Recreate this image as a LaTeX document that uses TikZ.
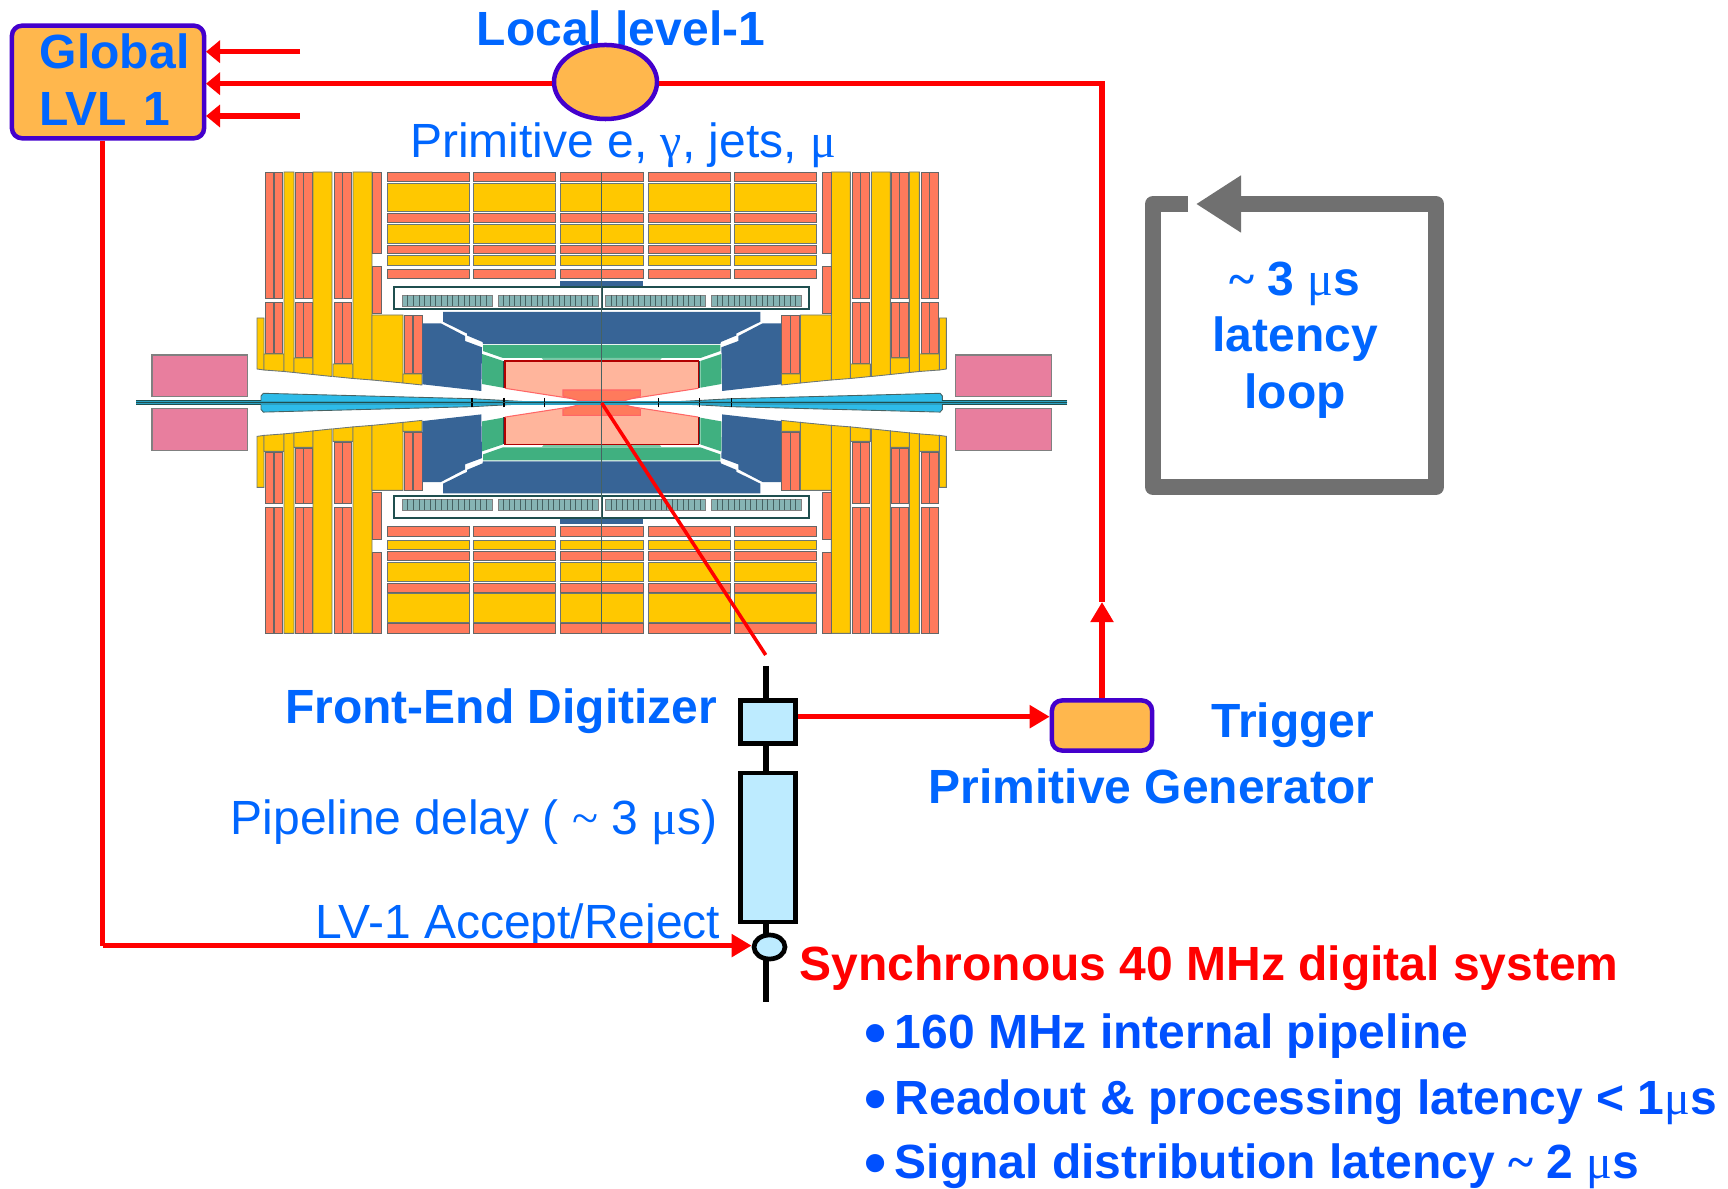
\documentclass[tikz,border=0pt]{standalone}
\usepackage{fontspec}
\setmainfont{Liberation Sans}
\newfontfamily\symbfont{Liberation Serif}
\usetikzlibrary{arrows.meta,shapes.geometric}

\definecolor{txtblue}{HTML}{0066FF}
\definecolor{bulletblue}{HTML}{0050FF}
\definecolor{boxorange}{HTML}{FFB74D}
\definecolor{boxpurple}{HTML}{4400CC}
\definecolor{cellblue}{HTML}{BDEBFF}
\definecolor{loopgray}{HTML}{707070}
\definecolor{detsalmon}{HTML}{FF7A5C}
\definecolor{detyellow}{HTML}{FFC800}
\definecolor{detblue}{HTML}{376496}
\definecolor{detgreen}{HTML}{40B080}
\definecolor{detpale}{HTML}{FFB59C}
\definecolor{detcone}{HTML}{2DBBE8}
\definecolor{detpink}{HTML}{E87E9E}
\definecolor{detmod}{HTML}{86B4B4}
\definecolor{detdark}{HTML}{1F4F4F}

\newcommand{\greek}[1]{{\symbfont\fontseries{m}\selectfont #1}}
\newcommand{\tildesym}{{\symbfont\textasciitilde}}
\newcommand{\bigbullet}{\raisebox{-.13em}{\fontsize{18}{18}\selectfont •}\hspace{.08cm}}

\tikzset{
  hcal/.style={fill=detsalmon,draw=gray!80!black,line width=.25pt},
  ecal/.style={fill=detyellow,draw=gray!80!detdark,line width=.25pt},
  lvlbox/.style={draw=boxpurple,fill=boxorange,line width=.045cm,rounded corners=.1cm,inner sep=0pt},
  cellbox/.style={draw=black,fill=cellblue,line width=.047cm,inner sep=0pt},
  sigarrow/.style={draw=red,line width=.055cm,-{Triangle[length=.2cm,width=.22cm]}},
  sigshort/.style={draw=red,line width=.055cm,-{Triangle[length=.14cm,width=.22cm]}},
  sigline/.style={draw=red,line width=.055cm},
  big/.style={fill=none,font=\fontsize{13.65}{16}\selectfont\bfseries,text=txtblue,inner sep=0pt},
  thin/.style={fill=none,font=\fontsize{13.65}{16}\selectfont,text=txtblue,inner sep=0pt},
}

% one quarter of the detector, top left
\newcommand{\detquarter}{
  \foreach \xa/\xb in {387/469,473/555,560/601.7} {
    \foreach \ya/\yb in {172.3/181.7,213.3/222.3,245/253.7,269/278.7}
      \filldraw[hcal] (\xa,\ya) rectangle (\xb,\yb);
    \foreach \ya/\yb in {183.3/211.7,224.3/243.3,255.7/265.3}
      \filldraw[ecal] (\xa,\ya) rectangle (\xb,\yb);
  }
  \fill[detblue] (560,281) rectangle (601.7,287);
  \filldraw[fill=white,draw=detdark,line width=.6pt] (394,287) rectangle (601.7,309);
  \foreach \xa/\xb/\n in {402/492/15,498/598/17} {
    \filldraw[fill=detmod,draw=gray,line width=.25pt] (\xa,295) rectangle (\xb,306);
    \foreach \i in {1,...,\n}
      \draw[detdark!60!gray,line width=.2pt] ({\xa+\i*(\xb-\xa)/(\n+1)},295) -- ++(0,11);
  }
  % end cap columns
  \foreach \xa/\xb/\xm/\yb in {265/282/274/353,295/312/303.5/357,334/351/342.5/363} {
    \filldraw[hcal] (\xa,172) rectangle (\xb,298);
    \filldraw[hcal] (\xa,302) rectangle (\xb,\yb);
    \draw[gray!80!black,line width=.3pt] (\xm,172) -- (\xm,298) (\xm,302) -- (\xm,\yb);
  }
  \filldraw[ecal] (257,318) -- (264,318) -- (264,370) -- (257,369) -- cycle;
  \filldraw[ecal] (264,354) -- (284,354) -- (284,371.5) -- (264,370) -- cycle;
  \filldraw[ecal] (284,172) -- (294,172) -- (294,372.5) -- (284,371.5) -- cycle;
  \filldraw[ecal] (294,358) -- (313,358) -- (313,374.5) -- (294,372.5) -- cycle;
  \filldraw[ecal] (313,172) -- (332,172) -- (332,376.5) -- (313,374.5) -- cycle;
  \filldraw[ecal] (333,364) -- (353,364) -- (353,378.5) -- (333,376.5) -- cycle;
  \filldraw[ecal] (353,172) -- (372,172) -- (372,380) -- (353,378.5) -- cycle;
  \filldraw[hcal] (372,172) rectangle (381,253);
  \filldraw[hcal] (372,266) rectangle (381,313);
  \filldraw[ecal] (372,315) -- (403,315) -- (403,383) -- (372,380) -- cycle;
  \filldraw[hcal] (404,315) rectangle (422,373);
  \draw[gray!80!black,line width=.3pt] (413,315) -- (413,373);
  \filldraw[ecal] (403,374) -- (422,374) -- (422,385) -- (403,383) -- cycle;
  % inner part
  \fill[detblue] (443,312) -- (601.7,312) -- (601.7,344) -- (483,344) -- (482.5,342) -- (467,335.5)
    -- (467,333.5) -- (443,321.7) -- cycle;
  \fill[detblue] (422.3,323.3) -- (440.7,323.3) -- (465,336) -- (465,341) -- (482,347.3)
    -- (481.3,391) -- (422.3,384.3) -- cycle;
  \fill[detgreen] (483,345) -- (601.7,345) -- (601.7,358) -- (503,358) -- (483,351) -- cycle;
  \fill[detgreen!70!white] (541.7,358) -- (601.7,358) -- (601.7,361) -- (544,361) -- cycle;
  \fill[detgreen] (482,354) -- (503,361) -- (503,387.7) -- (482,384) -- cycle;
  \fill[detdark] (503,361) rectangle (505,388);
  \fill[detpale] (505,361) -- (601.7,361) -- (601.7,402.7) -- (585,400.7) -- (505,388.3) -- cycle;
  \draw[red!70!black,line width=.5pt] (505,388.3) -- (505,361) -- (601.7,361);
  \draw[red!60!white,line width=.3pt] (505,388.3) -- (585,400.7);
  \filldraw[fill=detsalmon,draw=red!60!white,line width=.3pt] (563,390) -- (601.7,390) -- (601.7,400.7)
    -- (579,400.7) -- (563,396) -- cycle;
  % beam pipe
  \filldraw[fill=detcone,draw=detdark!60!gray,line width=.25pt] (263.3,393.3) -- (472,398.7) -- (545,402.7)
    -- (261,402.7) -- (261,396) -- cycle;
  \fill[detcone!75!detdark] (136,400.7) rectangle (601.7,402.7);
  \draw[detdark,line width=.25pt] (136,400.7) -- (261,400.7);
  \foreach \x in {472,504,544.7}
    \draw[black,line width=.35pt] (\x,398) -- (\x,402.7);
  \draw[detdark,line width=.35pt] (136,402.7) -- (601.7,402.7);
  \filldraw[fill=detpink,draw=gray,line width=.4pt] (152,355) rectangle (247.7,396.7);
}

\begin{document}
\begin{tikzpicture}[x=.01cm,y=-.01cm]
  \useasboundingbox (0,0) rectangle (1728,1189);

  % detector picture
  \foreach \fx/\fy/\sx/\sy in {1/1/0/0,-1/1/1203.4/0,1/-1/0/805.4,-1/-1/1203.4/805.4} {
    \begin{scope}[shift={(\sx,\sy)},xscale=\fx,yscale=\fy]
      \detquarter
    \end{scope}
  }
  \draw[detdark!60!gray,line width=.3pt] (601.7,172) -- (601.7,633.4);

  \begin{scope}[every node/.style={big}]
    \node[anchor=base] (tlocal) at (621,45.5) {Local level-1};
    \node[thin,anchor=base] (tprim) at (623,157.5) {Primitive e, \greek{γ}, jets, \greek{μ}};
    \node[anchor=base east] (tfront) at (718,724) {Front-End Digitizer};
    \node[thin,anchor=base east] (tpipe) at (718,834) {Pipeline delay ( \tildesym{} 3 \greek{μ}s)};
    \node[thin,anchor=base east] (taccept) at (721,938.5) {LV-1 Accept/Reject};
    \node[anchor=base east] (ttrig) at (1375,738) {Trigger};
    \node[anchor=base east] (tgen) at (1375,804) {Primitive Generator};
    \node[align=center] (tloop) at (1295,340) {\tildesym{} 3 \greek{μ}s\\latency\\loop};
    \node[anchor=base west,text=red] (tsync) at (799,980) {Synchronous 40 MHz digital system};
    \node[anchor=base west,text=bulletblue] (tb1) at (864,1048.5) {\bigbullet 160 MHz internal pipeline};
    \node[anchor=base west,text=bulletblue] (tb2) at (864,1114) {\bigbullet Readout \& processing latency < 1\greek{μ}s};
    \node[anchor=base west,text=bulletblue] (tb3) at (864,1178.5) {\bigbullet Signal distribution latency \tildesym{} 2 \greek{μ}s};
  \end{scope}

  % boxes
  \node[lvlbox,font=\fontsize{13.65}{16}\selectfont\bfseries,text=txtblue,align=left,text width=1.66cm,
    minimum width=1.92cm,minimum height=1.125cm] (global) at (108,82)
    {\hspace*{.15cm}Global\\\hspace*{.15cm}LVL 1\rule[-.05cm]{0pt}{0pt}};
  \node[lvlbox,ellipse,minimum width=1.03cm,minimum height=.74cm] (local) at (605.5,82) {};
  \node[lvlbox,minimum width=1.0cm,minimum height=.5cm] (trig) at (1102,725.5) {};

  \coordinate (a1) at (300,51.7);
  \coordinate (a1b) at (206,51.7);
  \coordinate (a3) at (300,116);
  \coordinate (a3b) at (206,116);
  \coordinate (a2b) at (206,83.7);
  \coordinate (corner) at (1102,83.7);
  \coordinate (mid) at (1102,602);
  \coordinate (vertex) at (601.7,403);
  \coordinate (ftop) at (765.7,655);
  \coordinate (wtop) at (766,666);
  \coordinate (wbot) at (766,1002);
  \coordinate (digiy) at (0,716.7);
  \coordinate (lvlturn) at (102.7,945.6);

  % readout chain
  \draw[black,line width=.06cm] (wtop) -- (wbot);
  \node[cellbox,minimum width=.55cm,minimum height=.435cm] (digi) at (768,722) {};
  \node[cellbox,minimum width=.55cm,minimum height=1.49cm] (pipe) at (768,847.5) {};
  \node[cellbox,ellipse,minimum width=.31cm,minimum height=.24cm] (accept) at (769.5,947) {};
  \draw[red,line width=.035cm] (vertex) -- (ftop);

  \begin{scope}[every edge/.style={sigshort}]
    \path (a1) edge (a1b);
    \path (a3) edge (a3b);
    \path (local.west |- a2b) edge (a2b);
  \end{scope}
  \begin{scope}[every edge/.style={sigarrow}]
    \path (digi.east |- digiy) edge (trig.west |- digiy);
    \path (trig.north) edge (mid);
    \path (lvlturn) edge (accept.west |- lvlturn);
  \end{scope}
  \draw[sigline] (mid) -- (corner) -- (local.east |- corner);
  \draw[sigline] (global.south -| lvlturn) -- (lvlturn);

  % latency loop
  \coordinate (ls) at (1188,204);
  \coordinate (le) at (1196,204);
  \draw[loopgray,line width=.16cm,line join=round,-{Triangle[length=.45cm,width=.54cm]}]
    (ls) -- (1153,204) -- (1153,487) -- (1436,487) -- (1436,204) -- (le);
\end{tikzpicture}
\end{document}
